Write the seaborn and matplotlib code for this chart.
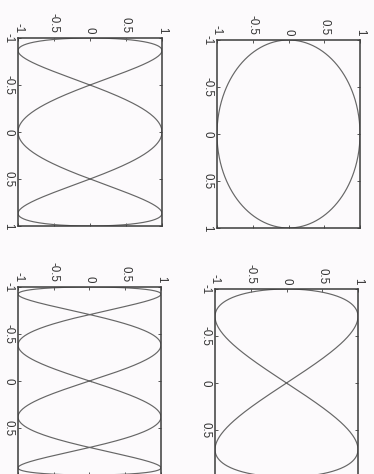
import numpy as np
import pandas as pd
import seaborn as sns
import matplotlib.pyplot as plt

# Lissajous panels: x = sin(t), y = f(n t)  (figure is shown rotated 90 deg)
panel_names = ["n3", "n1", "n4", "n2"]
y_freq = [3, 1, 4, 2]
y_func = ["cos", "cos", "sin", "sin"]
tick_values = [-1, -0.5, 0, 0.5, 1]
tick_labels = ["-1", "-0.5", "0", "0.5", "1"]

# axes boxes in pixels: left, top, right, bottom
boxes = [(18, 38, 162, 226), (217, 40, 360, 228),
         (18, 287, 161, 475), (215, 289, 358, 477)]

W, H = 374, 474
sns.set_style("white")
plt.rcParams["font.family"] = ["Liberation Sans", "DejaVu Sans"]
plt.rcParams["axes.unicode_minus"] = False

fig = plt.figure(figsize=(W / 100, H / 100), dpi=100)
fig.patch.set_facecolor("#fcfafc")

t = np.arange(0, 2 * np.pi + 0.01, 0.01)

for name, n, fn, box in zip(panel_names, y_freq, y_func, boxes):
    l, top, r, b = box
    ax = fig.add_axes([l / W, 1 - b / H, (r - l) / W, (b - top) / H])
    ax.set_facecolor("#fcfafc")
    f = np.cos if fn == "cos" else np.sin
    df = pd.DataFrame({"x": np.sin(t), "y": f(n * t)})
    sns.lineplot(data=df, x="y", y="x", sort=False, estimator=None,
                 color="#666666", lw=0.85, ax=ax)
    ax.set_xlim(-1, 1)
    ax.set_ylim(1, -1)
    ax.set_xlabel("")
    ax.set_ylabel("")
    # bottom row is cropped by the scan, so its last left label is not seen
    left_labels = list(tick_labels)
    if b > H:
        left_labels[-1] = ""
    ax.set_xticks(tick_values)
    ax.set_xticklabels(tick_labels, rotation=-90, fontsize=8.3, color="#333333")
    ax.set_yticks(tick_values)
    ax.set_yticklabels(left_labels, rotation=-90, fontsize=8.3, color="#333333",
                       va="center")
    ax.xaxis.tick_top()
    ax.tick_params(axis="x", which="both", direction="in", length=2.5, width=0.7,
                   top=True, bottom=True, labeltop=True, labelbottom=False,
                   pad=3.5, color="#555555")
    ax.tick_params(axis="y", which="both", direction="in", length=2.5, width=0.7,
                   left=True, right=True, pad=2.5, color="#555555")
    for lab in ax.get_xticklabels():
        lab.set_va("bottom")
        lab.set_ha("center")
    for sp in ax.spines.values():
        sp.set_visible(True)
        sp.set_color("#3c3c3c")
        sp.set_linewidth(1.1)

fig.savefig("out.png", dpi=100, facecolor=fig.get_facecolor())
